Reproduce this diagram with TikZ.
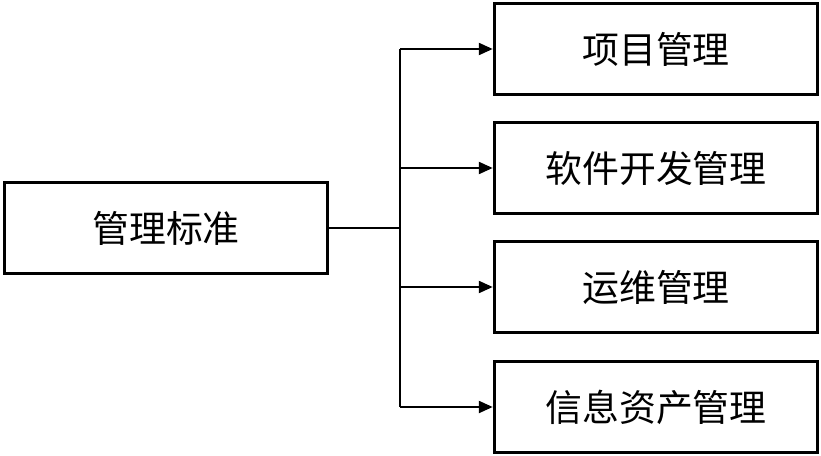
\documentclass[tikz,border=0pt]{standalone}
\usepackage{fontspec}
\newfontfamily\cjk{Noto Sans CJK SC}
\usetikzlibrary{arrows.meta,positioning}

\begin{document}
\begin{tikzpicture}[
    x=0.03cm, y=-0.03cm,
    box/.style={draw, line width=2.5pt, minimum width=9.7cm, minimum height=2.75cm, inner sep=0pt, font=\cjk\fontsize{31.5}{34}\selectfont},
    link/.style={line width=2.5pt},
    arr/.style={link, -{Triangle[length=12pt,width=10pt]}}
]
\useasboundingbox (0,0) rectangle (821,456);
\node[box] (std) at (166,228) {管理标准};
\node[box] (proj) at (656,49) {项目管理};
\node[box] (soft) at (656,168) {软件开发管理};
\node[box] (ops) at (656,287) {运维管理};
\node[box] (info) at (656,407) {信息资产管理};
\coordinate (hub) at (400,228);
\coordinate (top) at (400,49);
\coordinate (bot) at (400,407);

\draw[link] (std.east) -- (hub);
\draw[link] (top) -- (bot);
\draw[arr] (top) -- (proj.west);
\draw[arr] (soft.west -| hub) -- (soft.west);
\draw[arr] (ops.west -| hub) -- (ops.west);
\draw[arr] (bot) -- (info.west);
\end{tikzpicture}
\end{document}
